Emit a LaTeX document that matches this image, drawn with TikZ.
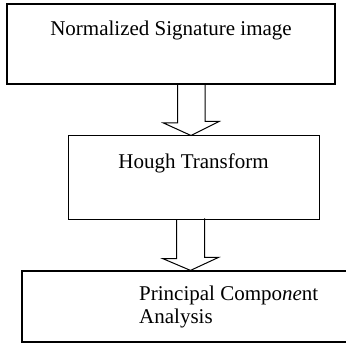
\documentclass[tikz,border=0pt]{standalone}
\usepackage{fontspec}
\setmainfont{Liberation Serif}
\usetikzlibrary{positioning, calc}

\begin{document}
\begin{tikzpicture}[
    x=1pt, y=-1pt,
    stagebox/.style={rectangle, draw, inner sep=0pt},
    caption/.style={inner sep=0pt, font=\fontsize{21}{23}\selectfont},
    blockarrow/.style={draw, line width=1pt, line join=miter}
]
\useasboundingbox (0,0) rectangle (346,345);

\node[stagebox, line width=2pt, minimum width=328pt, minimum height=80pt] (norm) at (171,44) {};
\node[caption, anchor=base] (normtxt) at (171,36) {Normalized Signature image};

\node[stagebox, line width=1pt, minimum width=251pt, minimum height=83pt] (hough) at (193.5,177.5) {};
\node[caption, anchor=base] (houghtxt) at (193.5,168) {Hough Transform};

\node[stagebox, line width=1.2pt, minimum width=338pt, minimum height=71pt] (pca) at (191,306.5) {};
\node[caption, anchor=base west, align=left] (pcatxt) at (139,323) {Principal Compo\textit{ne}nt\\Analysis};

% hollow arrows between the stages
\coordinate (tip1) at ($(hough.north)+(-2.5,0)$);
\draw[blockarrow] ($(tip1 |- norm.south)+(-13.5,0)$) -- ++(0,38) -- ++(-14,0) -- (tip1)
    -- ++(28,-14) -- ++(-14,0) -- ++(0,-38);

\coordinate (tip2) at ($(pca.north)+(-0.5,0)$);
\draw[blockarrow] ($(tip2 |- hough.south)+(-14,0)$) -- ++(0,39) -- ++(-14,0) -- (tip2)
    -- ++(28,-13) -- ++(-14,0) -- ++(0,-39);

\end{tikzpicture}
\end{document}
